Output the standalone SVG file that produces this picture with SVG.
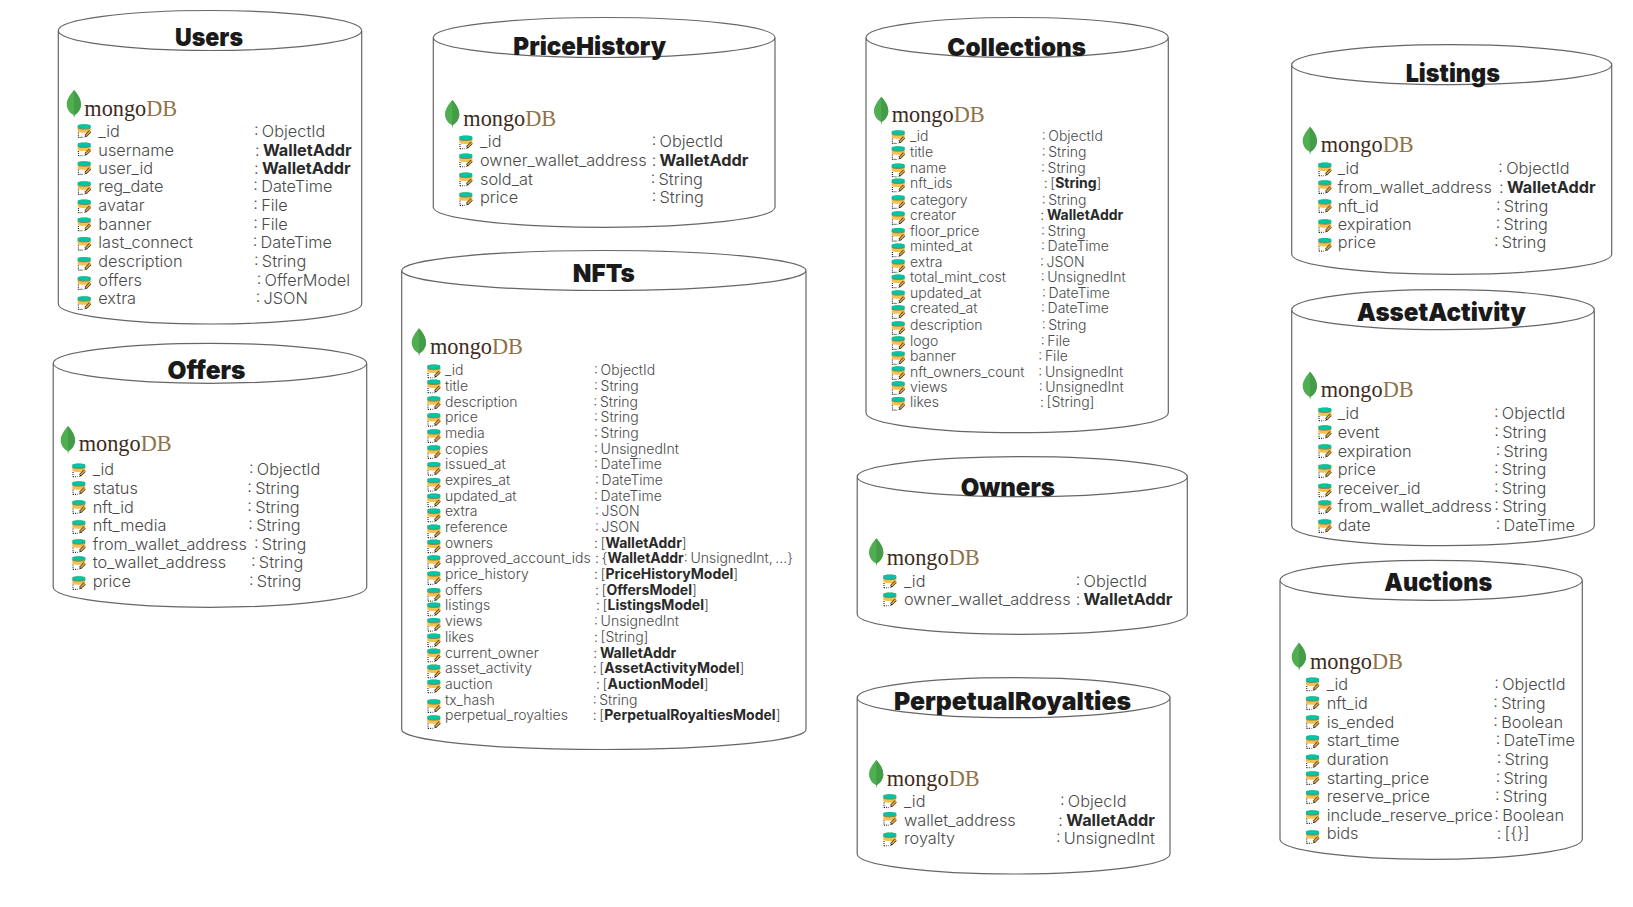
<svg xmlns="http://www.w3.org/2000/svg" width="1633" height="907" viewBox="0 0 1633 907">
<style>
text{font-family:"Inter","Noto Sans",sans-serif;fill:#4a4a4a;font-weight:300;font-size:16.3px;white-space:pre;word-spacing:-1.3px;transform:translateY(.8px)}
.s text{font-size:14px}
text.t{font-size:25px;font-weight:900;fill:#1a1a1a;text-anchor:middle}
.s text.t{font-size:25px}
text.m{font-family:"Liberation Serif",serif;font-size:22.3px;font-weight:400;fill:#3d2b20}
.s text.m{font-size:22.3px}
.m tspan{fill:#8f7248}
tspan.b{font-weight:700;fill:#2a2a2a}
.c{fill:#fff;stroke:#666;stroke-width:1.2}
</style>
<defs>
<g id="leaf"><path d="M7.2 0C11 4 14.3 9 14.3 14.5C14.3 20 10 24 7.8 25L7.3 28L6.8 25C4 23.5 0 20 0 14C0 9 4 4 7.2 0Z" fill="#4fae50"/><path d="M7.2 0C11 4 14.3 9 14.3 14.5C14.3 20 10 24 7.8 25L7.3 28Z" fill="#449c48"/></g>
<g id="f"><path d="M0 1.8C0 -.2 13 -.2 13 1.8V7.2C13 9.2 0 9.2 0 7.2Z" fill="#f6c04c"/><path d="M0 1.8C0 -.2 13 -.2 13 1.8V3.6C13 5.4 0 5.4 0 3.6Z" fill="#00c3a5"/><path d="M0 3.8C0 5.6 13 5.6 13 3.8" fill="none" stroke="#6b6b4a" stroke-width=".7"/><path d="M.7 8.6V13.4M.7 13.4H5.4" stroke="#222" stroke-width="1.1" stroke-dasharray="1 1.1" fill="none"/><path d="M12.4 7.4L7.8 12" stroke="#333" stroke-width="3"/><path d="M12.4 7.4L7.8 12" stroke="#f0a830" stroke-width="1.6"/><path d="M8.2 11.2L6.4 13.6L9 12.6Z" fill="#222"/></g>
</defs>

<g id="users">
<path class="c" d="M58.3 30.5A151.7 20 0 0 1 361.7 30.5A151.7 20 0 0 1 58.3 30.5V304A151.7 20 0 0 0 361.7 304V30.5"/>
<text class="t" x="209" y="45" textLength="68" lengthAdjust="spacingAndGlyphs">Users</text>
<use href="#leaf" x="66.7" y="90"/><text class="m" x="84.3" y="115">mongo<tspan>DB</tspan></text>
<use href="#f" x="77.7" y="124"/><text x="98.3" y="136">_id</text><text x="254" y="136">: ObjectId</text>
<use href="#f" x="77.7" y="142.3"/><text x="98.3" y="155">username</text><text x="255" y="155">: <tspan class="b">WalletAddr</tspan></text>
<use href="#f" x="77.7" y="161"/><text x="98.3" y="173.3">user_id</text><text x="254" y="173.3">: <tspan class="b">WalletAddr</tspan></text>
<use href="#f" x="77.7" y="181"/><text x="98.3" y="191.7">reg_date</text><text x="253.3" y="191.7">: DateTime</text>
<use href="#f" x="77.7" y="199.3"/><text x="98.3" y="210">avatar</text><text x="253.3" y="210">: File</text>
<use href="#f" x="77.7" y="217.3"/><text x="98.3" y="229">banner</text><text x="253.3" y="229">: File</text>
<use href="#f" x="77.7" y="236.7"/><text x="98.3" y="247.7">last_connect</text><text x="252.7" y="247.7">: DateTime</text>
<use href="#f" x="77.7" y="256.7"/><text x="98.3" y="266">description</text><text x="254" y="266">: String</text>
<use href="#f" x="77.7" y="276"/><text x="98.3" y="285">offers</text><text x="256.7" y="285">: OfferModel</text>
<use href="#f" x="77.7" y="296"/><text x="98.3" y="303.7">extra</text><text x="255.7" y="303.7">: JSON</text>
</g>

<g id="offers">
<path class="c" d="M53.2 363.3A156.75 20 0 0 1 366.7 363.3A156.75 20 0 0 1 53.2 363.3V587.3A156.75 20 0 0 0 366.7 587.3V363.3"/>
<text class="t" x="206.5" y="378.3" textLength="78" lengthAdjust="spacingAndGlyphs">Offers</text>
<use href="#leaf" x="60.7" y="426"/><text class="m" x="78.7" y="450.7">mongo<tspan>DB</tspan></text>
<use href="#f" x="72.3" y="463.3"/><text x="92.7" y="474.3">_id</text><text x="249" y="474.3">: ObjectId</text>
<use href="#f" x="72.3" y="481"/><text x="92.7" y="493.3">status</text><text x="247.3" y="493.3">: String</text>
<use href="#f" x="72.3" y="500"/><text x="92.7" y="512.3">nft_id</text><text x="247.3" y="512.3">: String</text>
<use href="#f" x="72.3" y="520"/><text x="92.7" y="530">nft_media</text><text x="248.3" y="530">: String</text>
<use href="#f" x="72.3" y="539"/><text x="92.7" y="549.3">from_wallet_address</text><text x="254" y="549.3">: String</text>
<use href="#f" x="72.3" y="556"/><text x="92.7" y="567.7">to_wallet_address</text><text x="251" y="567.7">: String</text>
<use href="#f" x="72.3" y="576"/><text x="92.7" y="586.7">price</text><text x="249" y="586.7">: String</text>
</g>

<g id="pricehistory">
<path class="c" d="M433.3 37.5A170.85 20 0 0 1 775 37.5A170.85 20 0 0 1 433.3 37.5V207.3A170.85 20 0 0 0 775 207.3V37.5"/>
<text class="t" x="589.7" y="54.3" textLength="152.7" lengthAdjust="spacingAndGlyphs">PriceHistory</text>
<use href="#leaf" x="445" y="100"/><text class="m" x="463.3" y="125">mongo<tspan>DB</tspan></text>
<use href="#f" x="459.3" y="135.3"/><text x="480" y="146">_id</text><text x="651.7" y="146">: ObjectId</text>
<use href="#f" x="459.3" y="153.3"/><text x="480" y="165">owner_wallet_address</text><text x="651.7" y="165">: <tspan class="b">WalletAddr</tspan></text>
<use href="#f" x="459.3" y="172.3"/><text x="480" y="184">sold_at</text><text x="650.7" y="184">: String</text>
<use href="#f" x="459.3" y="192"/><text x="480" y="202.3">price</text><text x="651.7" y="202.3">: String</text>
</g>

<g id="nfts" class="s">
<path class="c" d="M401.7 270.5A202.15 20 0 0 1 806 270.5A202.15 20 0 0 1 401.7 270.5V729.5A202.15 20 0 0 0 806 729.5V270.5"/>
<text class="t" x="603.8" y="281.7" textLength="62" lengthAdjust="spacingAndGlyphs">NFTs</text>
<use href="#leaf" x="411.7" y="328.3"/><text class="m" x="430" y="353.3">mongo<tspan>DB</tspan></text>
<use href="#f" x="427.3" y="364.3"/><text x="445" y="374.3">_id</text><text x="594" y="374.3">: ObjectId</text>
<use href="#f" x="427.3" y="379.3"/><text x="445" y="390">title</text><text x="594" y="390">: String</text>
<use href="#f" x="427.3" y="396"/><text x="445" y="406">description</text><text x="593.3" y="406">: String</text>
<use href="#f" x="427.3" y="412.7"/><text x="445" y="421.7">price</text><text x="594" y="421.7">: String</text>
<use href="#f" x="427.3" y="429"/><text x="445" y="437">media</text><text x="594" y="437">: String</text>
<use href="#f" x="427.3" y="445"/><text x="445" y="453">copies</text><text x="594" y="453">: UnsignedInt</text>
<use href="#f" x="427.3" y="461.7"/><text x="445" y="468.3">issued_at</text><text x="594" y="468.3">: DateTime</text>
<use href="#f" x="427.3" y="477.7"/><text x="445" y="484.3">expires_at</text><text x="595" y="484.3">: DateTime</text>
<use href="#f" x="427.3" y="493.3"/><text x="445" y="500">updated_at</text><text x="594" y="500">: DateTime</text>
<use href="#f" x="427.3" y="508.3"/><text x="445" y="515.3">extra</text><text x="595" y="515.3">: JSON</text>
<use href="#f" x="427.3" y="524.3"/><text x="445" y="531">reference</text><text x="595" y="531">: JSON</text>
<use href="#f" x="427.3" y="539.3"/><text x="445" y="547.3">owners</text><text x="594" y="547.3">: [<tspan class="b">WalletAddr</tspan>]</text>
<use href="#f" x="427.3" y="555"/><text x="445" y="562.3">approved_account_ids</text><text x="595" y="562.3">: {<tspan class="b">WalletAddr</tspan>: UnsignedInt, ...}</text>
<use href="#f" x="427.3" y="571"/><text x="445" y="578.3">price_history</text><text x="594" y="578.3">: [<tspan class="b">PriceHistoryModel</tspan>]</text>
<use href="#f" x="427.3" y="587.7"/><text x="445" y="594.3">offers</text><text x="595" y="594.3">: [<tspan class="b">OffersModel</tspan>]</text>
<use href="#f" x="427.3" y="602.3"/><text x="445" y="609.3">listings</text><text x="596" y="609.3">: [<tspan class="b">ListingsModel</tspan>]</text>
<use href="#f" x="427.3" y="617.7"/><text x="445" y="625">views</text><text x="594" y="625">: UnsignedInt</text>
<use href="#f" x="427.3" y="633.3"/><text x="445" y="641">likes</text><text x="594" y="641">: [String]</text>
<use href="#f" x="427.3" y="648.3"/><text x="445" y="657.3">current_owner</text><text x="593.3" y="657.3">: <tspan class="b">WalletAddr</tspan></text>
<use href="#f" x="427.3" y="664.3"/><text x="445" y="672.7">asset_activity</text><text x="592.7" y="672.7">: [<tspan class="b">AssetActivityModel</tspan>]</text>
<use href="#f" x="427.3" y="679.3"/><text x="445" y="688.3">auction</text><text x="596" y="688.3">: [<tspan class="b">AuctionModel</tspan>]</text>
<use href="#f" x="427.3" y="699"/><text x="445" y="704">tx_hash</text><text x="592.7" y="704">: String</text>
<use href="#f" x="427.3" y="715"/><text x="445" y="719.3">perpetual_royalties</text><text x="592.7" y="719.3">: [<tspan class="b">PerpetualRoyaltiesModel</tspan>]</text>
</g>

<g id="collections" class="s">
<path class="c" d="M866 37.5A151.15 20 0 0 1 1168.3 37.5A151.15 20 0 0 1 866 37.5V412.7A151.15 20 0 0 0 1168.3 412.7V37.5"/>
<text class="t" x="1016.7" y="55" textLength="138.7" lengthAdjust="spacingAndGlyphs">Collections</text>
<use href="#leaf" x="874" y="96.7"/><text class="m" x="891.7" y="121.7">mongo<tspan>DB</tspan></text>
<use href="#f" x="891.7" y="130"/><text x="910" y="140.7">_id</text><text x="1041.7" y="140.7">: ObjectId</text>
<use href="#f" x="891.7" y="146"/><text x="910" y="156.7">title</text><text x="1041.7" y="156.7">: String</text>
<use href="#f" x="891.7" y="163.3"/><text x="910" y="172.3">name</text><text x="1041" y="172.3">: String</text>
<use href="#f" x="891.7" y="178.3"/><text x="910" y="187.7">nft_ids</text><text x="1043.7" y="187.7">: [<tspan class="b">String</tspan>]</text>
<use href="#f" x="891.7" y="195"/><text x="910" y="204">category</text><text x="1041.7" y="204">: String</text>
<use href="#f" x="891.7" y="211"/><text x="910" y="219.3">creator</text><text x="1040.3" y="219.3">: <tspan class="b">WalletAddr</tspan></text>
<use href="#f" x="891.7" y="227.7"/><text x="910" y="235">floor_price</text><text x="1041" y="235">: String</text>
<use href="#f" x="891.7" y="243.3"/><text x="910" y="250.7">minted_at</text><text x="1041" y="250.7">: DateTime</text>
<use href="#f" x="891.7" y="259"/><text x="910" y="266">extra</text><text x="1040" y="266">: JSON</text>
<use href="#f" x="891.7" y="274.3"/><text x="910" y="281.7">total_mint_cost</text><text x="1040.7" y="281.7">: UnsignedInt</text>
<use href="#f" x="891.7" y="290"/><text x="910" y="297.7">updated_at</text><text x="1042" y="297.7">: DateTime</text>
<use href="#f" x="891.7" y="305"/><text x="910" y="312.7">created_at</text><text x="1041" y="312.7">: DateTime</text>
<use href="#f" x="891.7" y="321"/><text x="910" y="329">description</text><text x="1041.7" y="329">: String</text>
<use href="#f" x="891.7" y="336"/><text x="910" y="345">logo</text><text x="1040.7" y="345">: File</text>
<use href="#f" x="891.7" y="351"/><text x="910" y="360">banner</text><text x="1038.3" y="360">: File</text>
<use href="#f" x="891.7" y="366"/><text x="910" y="376">nft_owners_count</text><text x="1038.3" y="376">: UnsignedInt</text>
<use href="#f" x="891.7" y="381"/><text x="910" y="391.7">views</text><text x="1038.7" y="391.7">: UnsignedInt</text>
<use href="#f" x="891.7" y="396.7"/><text x="910" y="406.7">likes</text><text x="1040" y="406.7">: [String]</text>
</g>

<g id="owners">
<path class="c" d="M857.2 476.7A165.05 20 0 0 1 1187.3 476.7A165.05 20 0 0 1 857.2 476.7V614.3A165.05 20 0 0 0 1187.3 614.3V476.7"/>
<text class="t" x="1007.8" y="495" textLength="94.3" lengthAdjust="spacingAndGlyphs">Owners</text>
<use href="#leaf" x="869" y="538.3"/><text class="m" x="886.7" y="564">mongo<tspan>DB</tspan></text>
<use href="#f" x="883.3" y="574.3"/><text x="904" y="586">_id</text><text x="1075.7" y="586">: ObjectId</text>
<use href="#f" x="883.3" y="592.3"/><text x="904" y="604">owner_wallet_address</text><text x="1075.7" y="604">: <tspan class="b">WalletAddr</tspan></text>
</g>

<g id="perpetualroyalties">
<path class="c" d="M857.2 697.7A156.4 20 0 0 1 1170 697.7A156.4 20 0 0 1 857.2 697.7V854A156.4 20 0 0 0 1170 854V697.7"/>
<text class="t" x="1012.5" y="709.3" textLength="237" lengthAdjust="spacingAndGlyphs">PerpetualRoyalties</text>
<use href="#leaf" x="869" y="760"/><text class="m" x="886.7" y="785">mongo<tspan>DB</tspan></text>
<use href="#f" x="883.3" y="794"/><text x="904" y="806">_id</text><text x="1060" y="806">: ObjecId</text>
<use href="#f" x="883.3" y="811.7"/><text x="904" y="825">wallet_address</text><text x="1058.3" y="825">: <tspan class="b">WalletAddr</tspan></text>
<use href="#f" x="883.3" y="832.3"/><text x="904" y="843.3">royalty</text><text x="1056" y="843.3">: UnsignedInt</text>
</g>

<g id="listings">
<path class="c" d="M1291.7 64.7A160 20 0 0 1 1611.7 64.7A160 20 0 0 1 1291.7 64.7V254.3A160 20 0 0 0 1611.7 254.3V64.7"/>
<text class="t" x="1452.8" y="81.7" textLength="94.3" lengthAdjust="spacingAndGlyphs">Listings</text>
<use href="#leaf" x="1302.7" y="126.7"/><text class="m" x="1320.7" y="151.7">mongo<tspan>DB</tspan></text>
<use href="#f" x="1318.3" y="162.3"/><text x="1337.7" y="173.3">_id</text><text x="1498.3" y="173.3">: ObjectId</text>
<use href="#f" x="1318.3" y="180"/><text x="1337.7" y="192.3">from_wallet_address</text><text x="1499" y="192.3">: <tspan class="b">WalletAddr</tspan></text>
<use href="#f" x="1318.3" y="199"/><text x="1337.7" y="211">nft_id</text><text x="1496" y="211">: String</text>
<use href="#f" x="1318.3" y="219"/><text x="1337.7" y="229.3">expiration</text><text x="1495.7" y="229.3">: String</text>
<use href="#f" x="1318.3" y="237.7"/><text x="1337.7" y="247.7">price</text><text x="1494" y="247.7">: String</text>
</g>

<g id="assetactivity">
<path class="c" d="M1291.7 309.7A151.3 20 0 0 1 1594.3 309.7A151.3 20 0 0 1 1291.7 309.7V525.7A151.3 20 0 0 0 1594.3 525.7V309.7"/>
<text class="t" x="1441.3" y="320" textLength="169.3" lengthAdjust="spacingAndGlyphs">AssetActivity</text>
<use href="#leaf" x="1302.7" y="371.7"/><text class="m" x="1320.7" y="396.7">mongo<tspan>DB</tspan></text>
<use href="#f" x="1318.3" y="407.3"/><text x="1337.7" y="418.3">_id</text><text x="1494" y="418.3">: ObjectId</text>
<use href="#f" x="1318.3" y="425"/><text x="1337.7" y="437.3">event</text><text x="1494.3" y="437.3">: String</text>
<use href="#f" x="1318.3" y="444"/><text x="1337.7" y="456">expiration</text><text x="1495.7" y="456">: String</text>
<use href="#f" x="1318.3" y="464"/><text x="1337.7" y="474.3">price</text><text x="1494" y="474.3">: String</text>
<use href="#f" x="1318.3" y="483.3"/><text x="1337.7" y="493.3">receiver_id</text><text x="1494" y="493.3">: String</text>
<use href="#f" x="1318.3" y="500"/><text x="1337.7" y="511.7">from_wallet_address</text><text x="1494.3" y="511.7">: String</text>
<use href="#f" x="1318.3" y="519"/><text x="1337.7" y="530">date</text><text x="1495.7" y="530">: DateTime</text>
</g>

<g id="auctions">
<path class="c" d="M1280 580.3A151.15 20 0 0 1 1582.3 580.3A151.15 20 0 0 1 1280 580.3V839.3A151.15 20 0 0 0 1582.3 839.3V580.3"/>
<text class="t" x="1438.3" y="590" textLength="108" lengthAdjust="spacingAndGlyphs">Auctions</text>
<use href="#leaf" x="1291.7" y="642.7"/><text class="m" x="1310" y="668.3">mongo<tspan>DB</tspan></text>
<use href="#f" x="1306" y="677.3"/><text x="1326.7" y="689">_id</text><text x="1494.3" y="689">: ObjectId</text>
<use href="#f" x="1306" y="696"/><text x="1326.7" y="708.3">nft_id</text><text x="1493.3" y="708.3">: String</text>
<use href="#f" x="1306" y="715"/><text x="1326.7" y="727.3">is_ended</text><text x="1493.3" y="727.3">: Boolean</text>
<use href="#f" x="1306" y="735"/><text x="1326.7" y="745">start_time</text><text x="1495.7" y="745">: DateTime</text>
<use href="#f" x="1306" y="754.3"/><text x="1326.7" y="764.3">duration</text><text x="1496.7" y="764.3">: String</text>
<use href="#f" x="1306" y="771"/><text x="1326.7" y="783.3">starting_price</text><text x="1495.7" y="783.3">: String</text>
<use href="#f" x="1306" y="790"/><text x="1326.7" y="801.7">reserve_price</text><text x="1495" y="801.7">: String</text>
<use href="#f" x="1306" y="810"/><text x="1326.7" y="820">include_reserve_price</text><text x="1494.3" y="820">: Boolean</text>
<use href="#f" x="1306" y="830"/><text x="1326.7" y="838.3">bids</text><text x="1496.7" y="838.3">: [{}]</text>
</g>
</svg>
